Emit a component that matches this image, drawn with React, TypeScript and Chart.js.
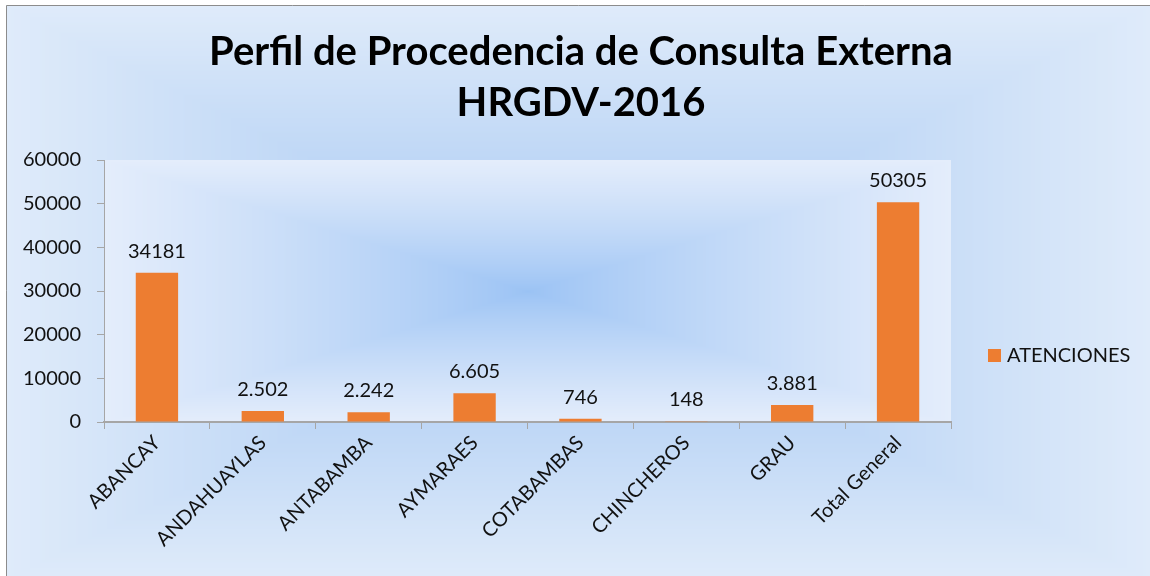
import React, { useEffect, useRef } from "react";
import { Chart, registerables } from "chart.js";

Chart.register(...registerables);

const categories = ["ABANCAY", "ANDAHUAYLAS", "ANTABAMBA", "AYMARAES", "COTABAMBAS", "CHINCHEROS", "GRAU", "Total General"];
const atenciones = [34181, 2502, 2242, 6605, 746, 148, 3881, 50305];
const valueLabels = ["34181", "2.502", "2.242", "6.605", "746", "148", "3.881", "50305"];
const seriesName = "ATENCIONES";
const titleLines = ["Perfil de Procedencia de Consulta Externa", "HRGDV-2016"];

const FONT = "Lato, 'Open Sans', sans-serif";
const BAR = "#ED7D31";

function lerp(a: number[], b: number[], t: number) {
  return [a[0] + (b[0] - a[0]) * t, a[1] + (b[1] - a[1]) * t, a[2] + (b[2] - a[2]) * t];
}

const backgroundPlugin = {
  id: "bgGradient",
  beforeDraw(chart: any) {
    const { ctx, width, height, chartArea } = chart;
    const img = ctx.createImageData(width, height);
    const d = img.data;
    const fx0 = 6, fy0 = 5;
    const ocx = 578, ocy = 292, ohw = 572, ohh = 287;
    const oC = [163, 198, 242], oE = [223, 235, 250];
    const pL = chartArea.left, pR = chartArea.right, pT = chartArea.top, pB = chartArea.bottom;
    const pcx = (pL + pR) / 2, pcy = (pT + pB) / 2, phw = (pR - pL) / 2, phh = (pB - pT) / 2;
    const pC = [154, 194, 244], pE = [228, 237, 251];
    for (let y = 0; y < height; y++) {
      for (let x = 0; x < width; x++) {
        const i = (y * width + x) * 4;
        let c: number[];
        if (x < fx0 || y < fy0) {
          c = [255, 255, 255];
        } else if (x >= pL && x < pR && y >= pT && y < pB) {
          const t = Math.min(1, Math.max(Math.abs(x - pcx) / phw, Math.abs(y - pcy) / phh));
          c = lerp(pC, pE, Math.pow(t, 0.8));
        } else {
          const t = Math.min(1, Math.max(Math.abs(x - ocx) / ohw, Math.abs(y - ocy) / ohh));
          c = lerp(oC, oE, t);
        }
        d[i] = c[0];
        d[i + 1] = c[1];
        d[i + 2] = c[2];
        d[i + 3] = 255;
      }
    }
    ctx.putImageData(img, 0, 0);
    ctx.save();
    ctx.strokeStyle = "#8C8C8C";
    ctx.lineWidth = 1;
    ctx.beginPath();
    ctx.moveTo(fx0 + 0.5, height);
    ctx.lineTo(fx0 + 0.5, fy0 + 0.5);
    ctx.lineTo(width, fy0 + 0.5);
    ctx.stroke();
    ctx.restore();

    // title
    ctx.save();
    ctx.fillStyle = "#000";
    ctx.textAlign = "center";
    ctx.textBaseline = "middle";
    ctx.font = `bold 40px ${FONT}`;
    ctx.fillText(titleLines[0], 581, 52);
    ctx.fillText(titleLines[1], 581, 103);
    ctx.restore();
  },
};

const labelsPlugin = {
  id: "valueLabels",
  afterDatasetsDraw(chart: any) {
    const { ctx } = chart;
    const meta = chart.getDatasetMeta(0);
    ctx.save();
    ctx.font = `20px ${FONT}`;
    ctx.fillStyle = "#111";
    ctx.textAlign = "center";
    ctx.textBaseline = "alphabetic";
    meta.data.forEach((bar: any, i: number) => {
      ctx.fillText(valueLabels[i], bar.x, bar.y - 15);
    });
    ctx.restore();
  },
  afterDraw(chart: any) {
    const { ctx } = chart;
    ctx.save();
    ctx.fillStyle = BAR;
    ctx.fillRect(988, 349, 13, 13);
    ctx.font = `20px ${FONT}`;
    ctx.fillStyle = "#111";
    ctx.textAlign = "left";
    ctx.textBaseline = "middle";
    ctx.fillText(chart.data.datasets[0].label, 1007, 356);
    ctx.restore();
  },
};

export default function App() {
  const ref = useRef<HTMLCanvasElement | null>(null);
  useEffect(() => {
    document.body.style.margin = "0";
    const canvas = ref.current!;
    const chart = new Chart(canvas, {
      type: "bar",
      data: {
        labels: categories,
        datasets: [
          {
            label: seriesName,
            data: atenciones,
            backgroundColor: BAR,
            borderWidth: 0,
            barPercentage: 0.4,
            categoryPercentage: 1,
          },
        ],
      },
      options: {
        responsive: false,
        animation: false,
        layout: { padding: { left: 0, right: 199, top: 160, bottom: 0 } },
        plugins: {
          legend: { display: false },
          tooltip: { enabled: false },
          title: { display: false },
        },
        scales: {
          x: {
            afterFit(scale: any) {
              scale.height = 154;
            },
            grid: {
              display: true,
              drawOnChartArea: false,
              drawTicks: true,
              tickLength: 7,
              color: "#A6A6A6",
              offset: true,
            },
            border: { display: true, color: "#A6A6A6", width: 2 },
            ticks: {
              color: "#111",
              font: { family: FONT, size: 20 },
              minRotation: 45,
              maxRotation: 45,
              padding: 2,
              autoSkip: false,
            },
          },
          y: {
            min: 0,
            max: 60000,
            afterFit(scale: any) {
              scale.width = 104;
            },
            grid: {
              display: true,
              drawOnChartArea: false,
              drawTicks: true,
              tickLength: 7,
              color: "#A6A6A6",
            },
            border: { display: true, color: "#A6A6A6", width: 1 },
            ticks: {
              stepSize: 10000,
              color: "#111",
              font: { family: FONT, size: 20 },
              padding: 16,
              callback: (v: any) => String(v),
            },
          },
        },
      },
      plugins: [backgroundPlugin, labelsPlugin],
    });
    return () => chart.destroy();
  }, []);
  return <canvas ref={ref} width={1150} height={576} style={{ display: "block" }} />;
}
